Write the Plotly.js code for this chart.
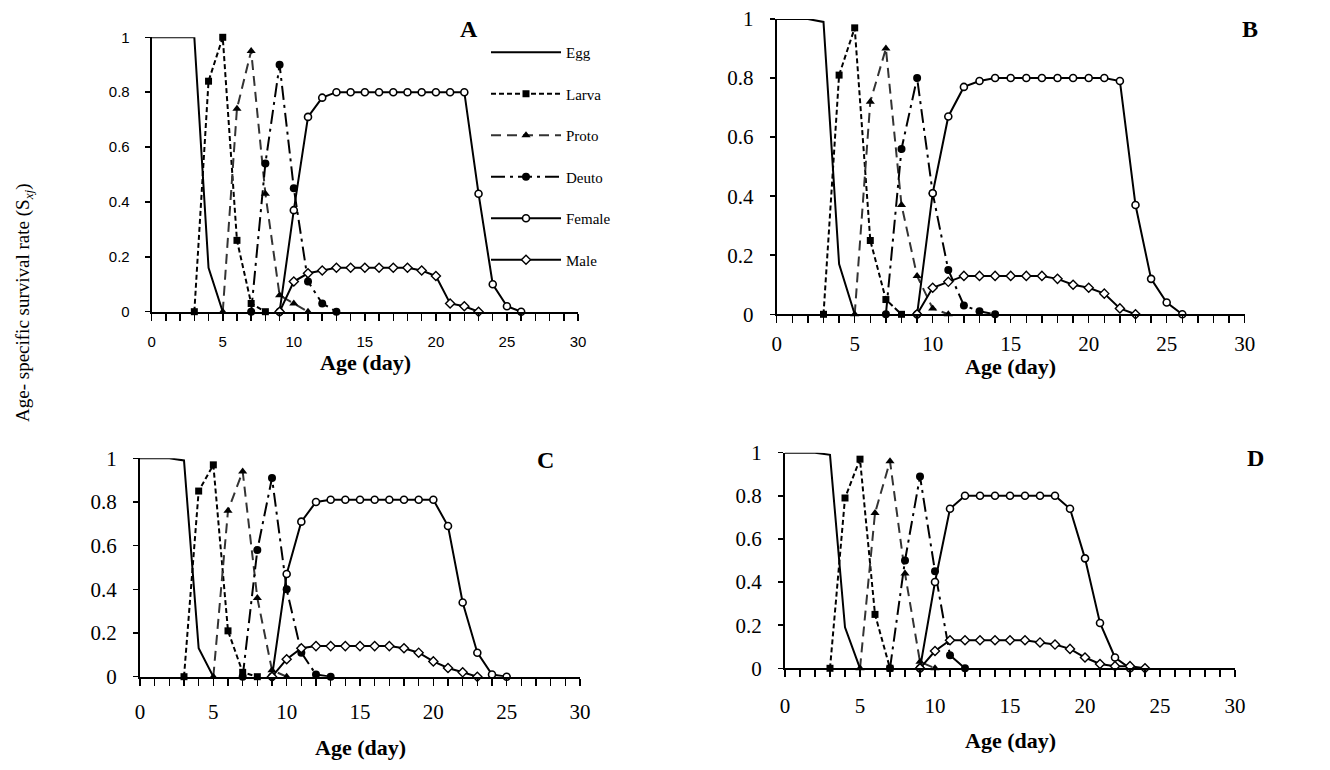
<!DOCTYPE html>
<html><head><meta charset="utf-8">
<script src="https://cdn.plot.ly/plotly-3.0.1.min.js"></script>
<style>html,body{margin:0;padding:0;background:#fff;}#chart{width:1330px;height:770px;}</style>
</head><body><div id="chart"></div>
<script>
// ---------- data (age in days, survival rate) ----------
const seriesNames = ['Egg', 'Larva', 'Proto', 'Deuto', 'Female', 'Male'];
const xTickVals = [0, 5, 10, 15, 20, 25, 30];
const panelLetters = ['A', 'B', 'C', 'D'];

// Panel A
const eggDaysA = [0, 1, 2, 3, 4, 5];
const eggA = [1, 1, 1, 1, 0.16, 0];
const larvaDaysA = [3, 4, 5, 6, 7, 8];
const larvaA = [0, 0.84, 1.0, 0.26, 0.03, 0];
const protoDaysA = [5, 6, 7, 8, 9, 10, 11];
const protoA = [0, 0.74, 0.95, 0.43, 0.06, 0.03, 0];
const deutoDaysA = [7, 8, 9, 10, 11, 12, 13];
const deutoA = [0, 0.54, 0.90, 0.45, 0.11, 0.03, 0];
const femaleDaysA = [9, 10, 11, 12, 13, 14, 15, 16, 17, 18, 19, 20, 21, 22, 23, 24, 25, 26];
const femaleA = [0, 0.37, 0.71, 0.78, 0.80, 0.80, 0.80, 0.80, 0.80, 0.80, 0.80, 0.80, 0.80, 0.80, 0.43, 0.10, 0.02, 0];
const maleDaysA = [9, 10, 11, 12, 13, 14, 15, 16, 17, 18, 19, 20, 21, 22, 23];
const maleA = [0, 0.11, 0.14, 0.15, 0.16, 0.16, 0.16, 0.16, 0.16, 0.16, 0.15, 0.13, 0.03, 0.02, 0];

// Panel B
const eggDaysB = [0, 1, 2, 3, 4, 5];
const eggB = [1, 1, 1, 0.99, 0.17, 0];
const larvaDaysB = [3, 4, 5, 6, 7, 8];
const larvaB = [0, 0.81, 0.97, 0.25, 0.05, 0];
const protoDaysB = [5, 6, 7, 8, 9, 10, 11];
const protoB = [0, 0.72, 0.90, 0.37, 0.13, 0.02, 0];
const deutoDaysB = [7, 8, 9, 10, 11, 12, 13, 14];
const deutoB = [0, 0.56, 0.80, 0.41, 0.15, 0.03, 0.01, 0];
const femaleDaysB = [9, 10, 11, 12, 13, 14, 15, 16, 17, 18, 19, 20, 21, 22, 23, 24, 25, 26];
const femaleB = [0, 0.41, 0.67, 0.77, 0.79, 0.80, 0.80, 0.80, 0.80, 0.80, 0.80, 0.80, 0.80, 0.79, 0.37, 0.12, 0.04, 0];
const maleDaysB = [9, 10, 11, 12, 13, 14, 15, 16, 17, 18, 19, 20, 21, 22, 23];
const maleB = [0, 0.09, 0.11, 0.13, 0.13, 0.13, 0.13, 0.13, 0.13, 0.12, 0.10, 0.09, 0.07, 0.02, 0];

// Panel C
const eggDaysC = [0, 1, 2, 3, 4, 5];
const eggC = [1, 1, 1, 0.99, 0.13, 0];
const larvaDaysC = [3, 4, 5, 6, 7, 8];
const larvaC = [0, 0.85, 0.97, 0.21, 0.02, 0];
const protoDaysC = [5, 6, 7, 8, 9, 10];
const protoC = [0, 0.76, 0.94, 0.36, 0.03, 0];
const deutoDaysC = [7, 8, 9, 10, 11, 12, 13];
const deutoC = [0, 0.58, 0.91, 0.40, 0.11, 0.01, 0];
const femaleDaysC = [9, 10, 11, 12, 13, 14, 15, 16, 17, 18, 19, 20, 21, 22, 23, 24, 25];
const femaleC = [0, 0.47, 0.71, 0.80, 0.81, 0.81, 0.81, 0.81, 0.81, 0.81, 0.81, 0.81, 0.69, 0.34, 0.11, 0.01, 0];
const maleDaysC = [9, 10, 11, 12, 13, 14, 15, 16, 17, 18, 19, 20, 21, 22, 23];
const maleC = [0, 0.08, 0.13, 0.14, 0.14, 0.14, 0.14, 0.14, 0.14, 0.13, 0.11, 0.07, 0.04, 0.02, 0];

// Panel D
const eggDaysD = [0, 1, 2, 3, 4, 5];
const eggD = [1, 1, 1, 0.99, 0.19, 0];
const larvaDaysD = [3, 4, 5, 6, 7];
const larvaD = [0, 0.79, 0.97, 0.25, 0];
const protoDaysD = [5, 6, 7, 8, 9, 10];
const protoD = [0, 0.72, 0.96, 0.44, 0.03, 0];
const deutoDaysD = [7, 8, 9, 10, 11, 12];
const deutoD = [0, 0.50, 0.89, 0.45, 0.06, 0];
const femaleDaysD = [9, 10, 11, 12, 13, 14, 15, 16, 17, 18, 19, 20, 21, 22, 23];
const femaleD = [0, 0.40, 0.74, 0.80, 0.80, 0.80, 0.80, 0.80, 0.80, 0.80, 0.74, 0.51, 0.21, 0.05, 0];
const maleDaysD = [9, 10, 11, 12, 13, 14, 15, 16, 17, 18, 19, 20, 21, 22, 23, 24];
const maleD = [0, 0.08, 0.13, 0.13, 0.13, 0.13, 0.13, 0.13, 0.12, 0.11, 0.09, 0.05, 0.02, 0.01, 0.01, 0];

// ---------- styling ----------
const W = 1330, H = 770;
const px = v => v / W;
const py = v => 1 - v / H;
const SERIF = '"Liberation Serif", "Times New Roman", serif';
const SANS = '"Liberation Sans", Arial, sans-serif';

const styles = {
  Egg:    {mode: 'lines', line: {color: '#000', width: 2}},
  Larva:  {mode: 'lines+markers', line: {color: '#000', width: 2, dash: '5px,3px'},
           marker: {symbol: 'square', size: 7, color: '#000'}},
  Proto:  {mode: 'lines+markers', line: {color: '#333', width: 2, dash: '10px,6px'},
           marker: {symbol: 'triangle-up', size: 8, color: '#000'}},
  Deuto:  {mode: 'lines+markers', line: {color: '#000', width: 2, dash: '14px,5px,3px,5px'},
           marker: {symbol: 'circle', size: 8, color: '#000'}},
  Female: {mode: 'lines+markers', line: {color: '#000', width: 2},
           marker: {symbol: 'circle', size: 7, color: '#fff', line: {color: '#000', width: 1.6}}},
  Male:   {mode: 'lines+markers', line: {color: '#000', width: 2},
           marker: {symbol: 'diamond', size: 7, color: '#fff', line: {color: '#000', width: 1.4}}}
};

const panels = [
  {xa: 'x',  ya: 'y',  legend: true,
   data: [[eggDaysA, eggA], [larvaDaysA, larvaA], [protoDaysA, protoA], [deutoDaysA, deutoA], [femaleDaysA, femaleA], [maleDaysA, maleA]]},
  {xa: 'x2', ya: 'y2', legend: false,
   data: [[eggDaysB, eggB], [larvaDaysB, larvaB], [protoDaysB, protoB], [deutoDaysB, deutoB], [femaleDaysB, femaleB], [maleDaysB, maleB]]},
  {xa: 'x3', ya: 'y3', legend: false,
   data: [[eggDaysC, eggC], [larvaDaysC, larvaC], [protoDaysC, protoC], [deutoDaysC, deutoC], [femaleDaysC, femaleC], [maleDaysC, maleC]]},
  {xa: 'x4', ya: 'y4', legend: false,
   data: [[eggDaysD, eggD], [larvaDaysD, larvaD], [protoDaysD, protoD], [deutoDaysD, deutoD], [femaleDaysD, femaleD], [maleDaysD, maleD]]}
];

const traces = [];
panels.forEach(p => {
  p.data.forEach((d, i) => {
    const name = seriesNames[i];
    traces.push(Object.assign({
      type: 'scatter', x: d[0], y: d[1], name: name,
      xaxis: p.xa, yaxis: p.ya, cliponaxis: false,
      showlegend: p.legend, legendgroup: name, hoverinfo: 'skip'
    }, JSON.parse(JSON.stringify(styles[name]))));
  });
});

function xAxis(x0, x1, anchor, font, standoff) {
  return {
    domain: [px(x0), px(x1)], anchor: anchor, range: [0, 30],
    tickvals: xTickVals, ticks: 'outside', ticklen: 7, tickwidth: 1.5, tickcolor: '#000',
    minor: {dtick: 1, tick0: 0, ticks: 'outside', ticklen: 7, tickwidth: 1.5, tickcolor: '#000', showgrid: false},
    showline: true, linewidth: 2, linecolor: '#000', showgrid: false, zeroline: false,
    tickfont: font, ticklabelstandoff: standoff, fixedrange: true
  };
}
function yAxis(yTop, yBot, anchor, font, standoff) {
  return {
    domain: [py(yBot), py(yTop)], anchor: anchor, range: [0, 1], dtick: 0.2, tick0: 0,
    ticks: 'outside', ticklen: 5, tickwidth: 1.5, tickcolor: '#000',
    showline: true, linewidth: 2, linecolor: '#000', showgrid: false, zeroline: false,
    tickfont: font, ticklabelstandoff: standoff, fixedrange: true
  };
}

const fontA = {family: SANS, size: 15, color: '#000'};
const fontBig = {family: SERIF, size: 21, color: '#000'};
const titleFont = {family: SERIF, size: 22, color: '#000'};
const letterFont = {family: SERIF, size: 24, color: '#000'};

function note(text, x, y, font, extra) {
  return Object.assign({text: text, x: px(x), y: py(y), xref: 'paper', yref: 'paper',
    xanchor: 'center', yanchor: 'middle', showarrow: false, font: font}, extra || {});
}

const annotations = [
  note('<b>Age (day)</b>', 365, 362, titleFont),
  note('<b>Age (day)</b>', 1011, 366, titleFont),
  note('<b>Age (day)</b>', 360, 747, titleFont),
  note('<b>Age (day)</b>', 1010, 740, titleFont),
  note('<b>' + panelLetters[0] + '</b>', 469, 29, letterFont),
  note('<b>' + panelLetters[1] + '</b>', 1250, 29, letterFont),
  note('<b>' + panelLetters[2] + '</b>', 545, 460, letterFont),
  note('<b>' + panelLetters[3] + '</b>', 1255, 458, letterFont),
  note('Age- specific survival rate (S<sub><i>xj</i></sub>)', 24, 303,
       {family: SERIF, size: 19, color: '#000'}, {textangle: -90})
];

const layout = {
  width: W, height: H, margin: {l: 0, r: 0, t: 0, b: 0},
  paper_bgcolor: '#fff', plot_bgcolor: 'rgba(0,0,0,0)',
  showlegend: true,
  legend: {x: px(486), xanchor: 'left', y: py(36), yanchor: 'top',
           font: {family: SERIF, size: 15, color: '#000'}, bgcolor: 'rgba(0,0,0,0)',
           itemwidth: 70, tracegroupgap: 19, traceorder: 'grouped'},
  xaxis:  xAxis(151.7, 578, 'y', fontA, 8),
  yaxis:  yAxis(37.3, 311.7, 'x', fontA, 12),
  xaxis2: xAxis(776.7, 1244.7, 'y2', fontBig, 2),
  yaxis2: yAxis(19, 314.3, 'x2', fontBig, 12),
  xaxis3: xAxis(140, 580, 'y3', fontBig, 8),
  yaxis3: yAxis(458.3, 676.7, 'x3', fontBig, 12),
  xaxis4: xAxis(785, 1235, 'y4', fontBig, 10),
  yaxis4: yAxis(452.7, 668.3, 'x4', fontBig, 12),
  annotations: annotations
};

Plotly.newPlot('chart', traces, layout, {displayModeBar: false, staticPlot: true});
</script>
</body></html>
